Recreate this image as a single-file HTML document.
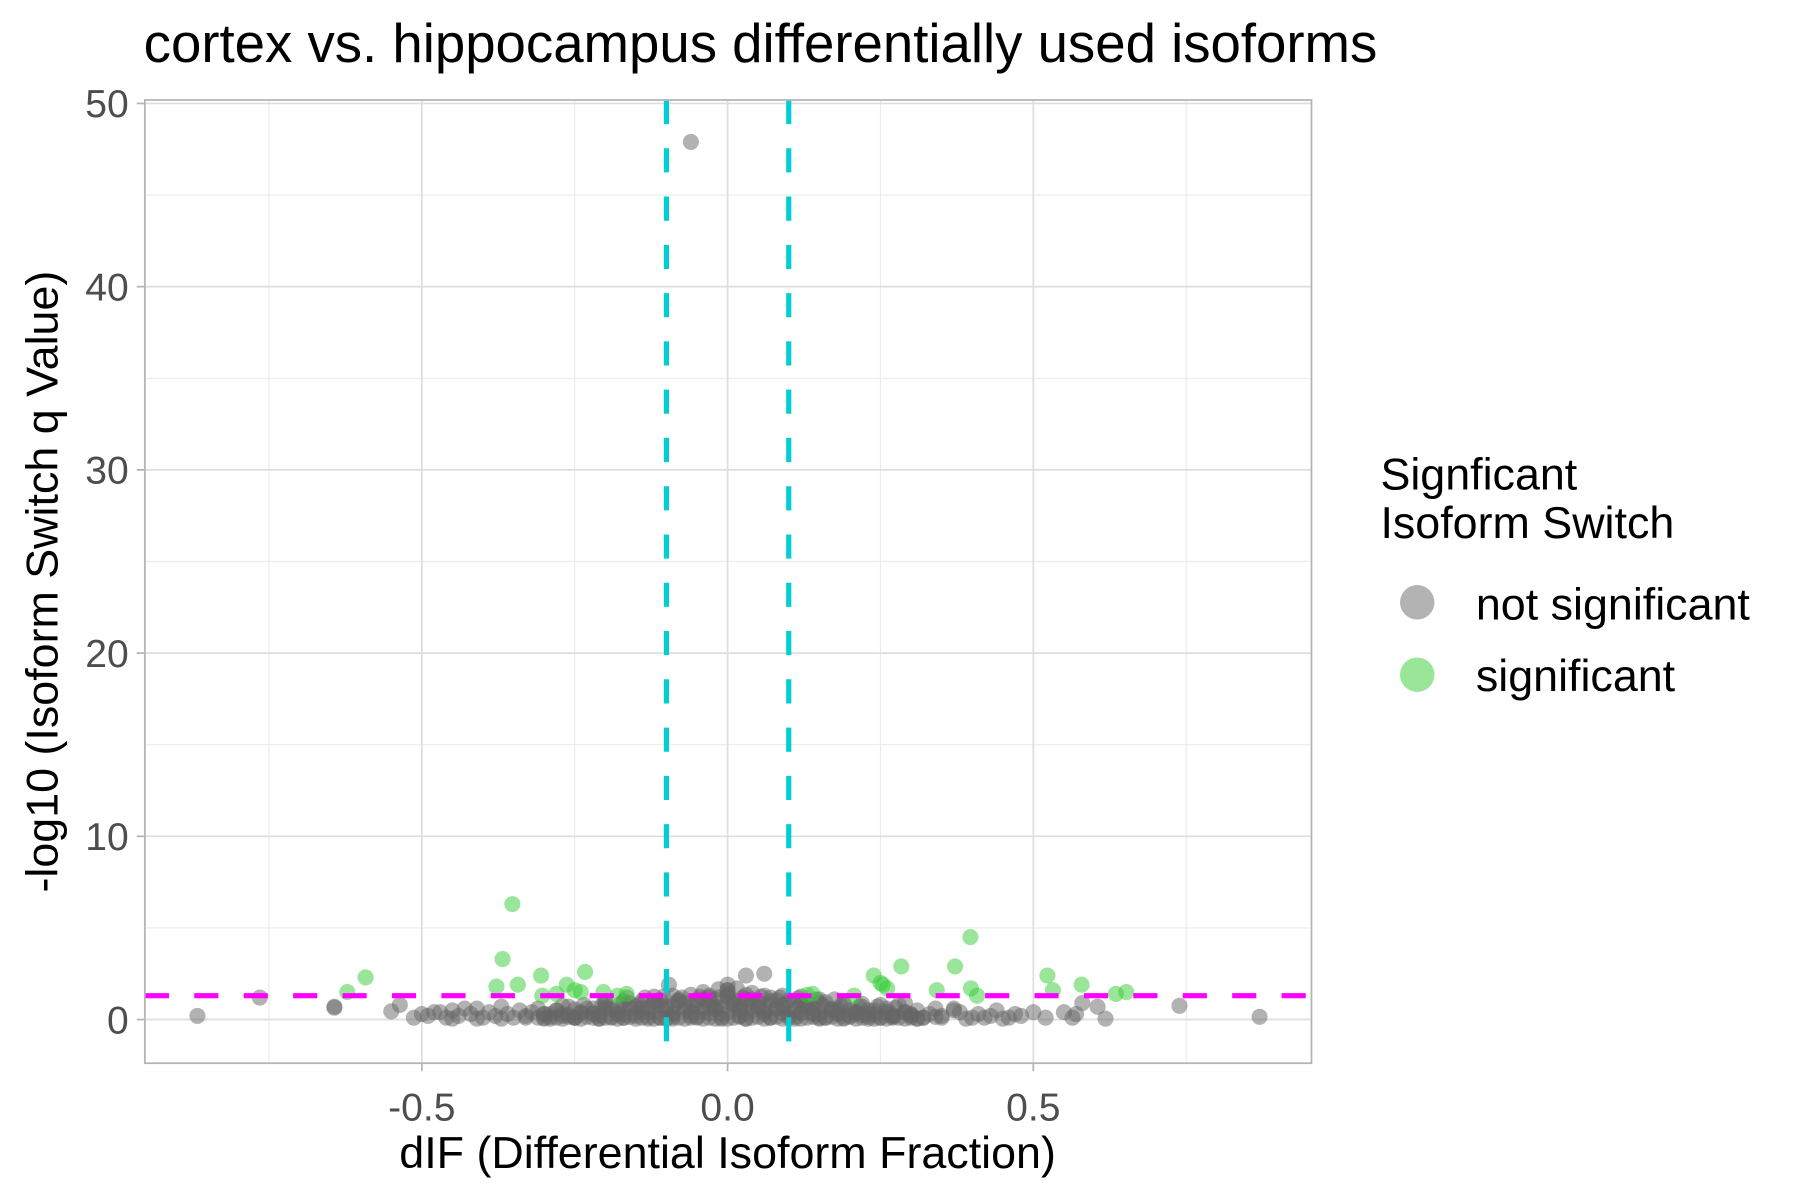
<!DOCTYPE html>
<html><head><meta charset="utf-8"><style>
html,body{margin:0;padding:0;background:#fff;}
svg{display:block;font-family:"Liberation Sans",sans-serif;}
</style></head><body>
<svg id="chart" width="1800" height="1200" viewBox="0 0 1566 1044" xmlns="http://www.w3.org/2000/svg">
<rect width="1566" height="1044" fill="#fff"/>
<text x="125" y="54" font-size="47.5" fill="#000">cortex vs. hippocampus differentially used isoforms</text>
<g id="grid"></g>
<g id="pts"></g>
<g id="lines"></g>
<rect x="126" y="87" width="1015" height="838" fill="none" stroke="#b3b3b3" stroke-width="1.5"/>
<g id="axes"></g>
<text x="633" y="1016" font-size="39" text-anchor="middle" fill="#000">dIF (Differential Isoform Fraction)</text>
<text transform="translate(50,506) rotate(-90)" font-size="39" text-anchor="middle" fill="#000">-log10 (Isoform Switch q Value)</text>
<g>
<text x="1201" y="426" font-size="39" fill="#000">Signficant</text>
<text x="1201" y="468" font-size="39" fill="#000">Isoform Switch</text>
<circle cx="1233" cy="524" r="15" fill="#b3b3b3"/>
<text x="1284" y="539" font-size="39" fill="#000">not significant</text>
<circle cx="1233" cy="587" r="15" fill="#99e699"/>
<text x="1284" y="601" font-size="39" fill="#000">significant</text>
</g>
</svg>
<script>
const xTicks=[-0.5,0,0.5];
const xTickLabels=["-0.5","0.0","0.5"];
const yTicks=[0,10,20,30,40,50];
const yTickLabels=["0","10","20","30","40","50"];
const dIFThresholds=[-0.1,0.1];
const qThreshold=[1.3];
const sigX=[-0.622,-0.592,-0.368,-0.352,-0.378,-0.343,-0.305,-0.233,-0.263,-0.25,-0.303,-0.203,-0.165,-0.18,0.139,0.13,0.207,0.239,0.284,0.254,0.261,0.25,0.342,0.372,0.397,0.398,0.408,0.523,0.532,0.579,0.635,0.652,-0.28,-0.24];
const sigY=[1.5,2.3,3.3,6.3,1.8,1.9,2.4,2.6,1.9,1.6,1.3,1.5,1.4,1.3,1.4,1.35,1.3,2.4,2.9,1.9,1.7,2.0,1.6,2.9,4.5,1.7,1.3,2.4,1.6,1.9,1.4,1.5,1.4,1.5];
const nsX=[-0.06,-0.867,-0.765,-0.643,-0.643,-0.096,0.03,0.06,0,0,0.739,0.87,0.618,0.605,0.564,0.57,0.58,0.55,-0.55,-0.536,-0.513,-0.5,-0.49,-0.47,-0.46,-0.45,-0.44,-0.42,-0.41,-0.4,-0.39,-0.38,-0.37,-0.36,-0.35,-0.34,-0.33,-0.32,-0.31,-0.3,-0.29,-0.28,-0.27,-0.26,-0.25,-0.24,-0.23,-0.22,-0.21,-0.2,-0.19,-0.18,-0.17,-0.16,-0.15,-0.14,-0.13,-0.12,-0.11,-0.1,-0.09,-0.08,-0.07,-0.06,-0.05,-0.04,-0.03,-0.02,-0.01,0,0.01,0.02,0.03,0.04,0.05,0.06,0.07,0.08,0.09,0.1,0.11,0.12,0.13,0.14,0.15,0.16,0.17,0.18,0.19,0.2,0.21,0.22,0.23,0.24,0.25,0.26,0.27,0.28,0.29,0.3,0.31,0.32,0.33,0.35,0.37,0.38,0.4,0.41,0.43,0.44,0.46,0.47,0.48,0.5,0.52,-0.45,-0.41,-0.37,-0.33,-0.29,-0.25,-0.21,-0.17,-0.13,-0.09,-0.05,-0.01,0.03,0.07,0.11,0.15,0.19,0.23,0.27,0.31,0.35,0.39,0.42,0.45,-0.3,-0.26,-0.22,-0.18,-0.14,-0.1,-0.06,-0.02,0.02,0.06,0.1,0.14,0.18,0.22,0.26,0.3,0.34,-0.2,-0.15,-0.11,-0.07,-0.03,0.01,0.05,0.09,0.13,0.17,0.21,-0.08,-0.04,0,0.04,0.08,-0.12,0.12,-0.02,0.02,0.37,0.34,0.29,0.25,-0.43,-0.48,-0.2,0.15];
const nsY=[47.9,0.2,1.2,0.7,0.65,1.9,2.4,2.5,1.9,1.6,0.75,0.15,0.05,0.7,0.1,0.3,0.9,0.4,0.45,0.8,0.1,0.3,0.2,0.4,0.1,0.5,0.2,0.3,0.6,0.1,0.4,0.2,0.7,0.3,0.1,0.5,0.2,0.4,0.6,0.1,0.3,0.5,0.2,0.7,0.1,0.4,0.6,0.3,0.2,0.8,0.1,0.5,0.3,0.9,0.2,0.6,0.4,1.0,0.1,0.7,0.3,1.1,0.5,0.2,0.9,0.4,1.2,0.6,0.3,1.3,0.8,0.2,1.1,0.5,0.9,0.3,1.2,0.6,0.8,0.2,1.0,0.4,0.7,0.3,0.9,0.1,0.6,0.5,0.8,0.2,0.4,0.7,0.3,0.5,0.1,0.6,0.2,0.8,0.4,0.3,0.5,0.1,0.3,0.2,0.6,0.4,0.1,0.3,0.2,0.5,0.1,0.3,0.2,0.4,0.1,0.05,0.05,0.05,0.1,0.05,0.1,0.05,0.1,0.05,0.05,0.1,0.05,0.05,0.1,0.05,0.1,0.05,0.05,0.1,0.05,0.1,0.05,0.1,0.05,0.3,0.25,0.35,0.3,0.4,0.45,0.5,0.55,0.5,0.45,0.4,0.35,0.3,0.25,0.35,0.2,0.15,0.6,0.7,0.8,0.9,0.75,0.85,0.7,0.65,0.6,0.5,0.4,1.0,1.1,1.2,0.95,1.05,0.9,0.85,0.7,0.75,0.5,0.6,0.9,0.8,0.6,0.4,1.0,1.1];
const coreX=[-0.31,-0.3,-0.29,-0.28,-0.27,-0.26,-0.25,-0.24,-0.23,-0.22,-0.21,-0.2,-0.19,-0.18,-0.17,-0.16,-0.15,-0.14,-0.13,-0.12,-0.11,-0.1,-0.09,-0.08,-0.07,-0.06,-0.05,-0.04,-0.03,-0.02,-0.01,0,0.01,0.02,0.03,0.04,0.05,0.06,0.07,0.08,0.09,0.1,0.11,0.12,0.13,0.14,0.15,0.16,0.17,0.18,0.19,0.2,0.21,0.22,0.23,0.24,0.25,0.26,0.27,0.28,0.29,0.3,0.31,0.32,
-0.28,-0.25,-0.22,-0.19,-0.16,-0.13,-0.1,-0.07,-0.04,-0.01,0.02,0.05,0.08,0.11,0.14,0.17,0.2,0.23,0.26,0.29,
-0.2,-0.17,-0.14,-0.11,-0.08,-0.05,-0.02,0.01,0.04,0.07,0.1,0.13,0.16,0.19,0.22,
-0.12,-0.09,-0.06,-0.03,0,0.03,0.06,0.09,0.12,-0.04,0,0.04,0.015,-0.015,
-0.3,-0.27,-0.24,-0.21,-0.18,-0.15,-0.12,-0.09,-0.06,-0.03,0,0.03,0.06,0.09,0.12,0.15,0.18,0.21,0.24,0.27,0.3,
-0.27,-0.235,-0.205,-0.175,-0.145,-0.115,-0.085,-0.055,-0.025,0.005,0.035,0.065,0.095,0.125,0.155,0.185,0.215,0.245,0.275,
-0.165,-0.135,-0.105,-0.075,-0.045,-0.015,0.025,0.055,0.085,0.115,0.145,0.175];
const coreY=[0.1,0.05,0.15,0.1,0.05,0.15,0.1,0.05,0.15,0.1,0.05,0.1,0.15,0.05,0.1,0.15,0.05,0.1,0.15,0.05,0.1,0.05,0.15,0.1,0.05,0.1,0.15,0.05,0.1,0.05,0.1,0.05,0.1,0.15,0.05,0.1,0.15,0.05,0.1,0.15,0.05,0.1,0.15,0.05,0.1,0.15,0.05,0.1,0.15,0.05,0.1,0.15,0.05,0.1,0.15,0.05,0.1,0.05,0.15,0.1,0.05,0.1,0.05,0.1,
0.5,0.55,0.6,0.55,0.6,0.65,0.6,0.65,0.6,0.65,0.6,0.65,0.6,0.55,0.6,0.55,0.5,0.5,0.45,0.4,
0.95,1.0,1.0,1.05,1.0,1.05,1.1,1.05,1.1,1.0,1.05,1.0,0.95,0.9,0.85,
1.25,1.3,1.35,1.3,1.4,1.35,1.3,1.3,1.25,1.5,1.6,1.45,1.7,1.65,
0.3,0.3,0.35,0.3,0.35,0.35,0.4,0.35,0.4,0.35,0.4,0.35,0.4,0.35,0.35,0.3,0.35,0.3,0.3,0.25,0.25,
0.75,0.8,0.8,0.85,0.8,0.85,0.85,0.8,0.85,0.9,0.85,0.8,0.85,0.8,0.8,0.75,0.7,0.7,0.65,
1.2,1.2,1.25,1.2,1.25,1.2,1.2,1.25,1.2,1.15,1.1,1.1];
const NS="http://www.w3.org/2000/svg";
const X0=126,X1=1141,Y0=87,Y1=925;
function sx(v){return 633+v*532;}
function sy(v){return 887-v*15.94;}
function mk(p,t,a){const e=document.createElementNS(NS,t);for(const k in a)e.setAttribute(k,a[k]);document.getElementById(p).appendChild(e);return e;}
const minorX=[-0.75,-0.25,0.25,0.75];
for(const v of minorX){const e=mk('grid','line',{x1:sx(v),x2:sx(v),y1:Y0,y2:Y1,stroke:'#ebebeb','stroke-width':1});

}
const minorY=[5,15,25,35,45];
for(const v of minorY){const e=mk('grid','line',{x1:X0,x2:X1,y1:sy(v),y2:sy(v),stroke:'#ebebeb','stroke-width':1});

}
xTicks.forEach((v,i)=>{const e=mk('grid','line',{x1:sx(v),x2:sx(v),y1:Y0,y2:Y1,stroke:'#dedede','stroke-width':1.5});


const t=mk('axes','line',{x1:sx(v),x2:sx(v),y1:Y1,y2:Y1+7,stroke:'#b3b3b3','stroke-width':1.5});


const l=mk('axes','text',{x:sx(v),y:Y1+50,'font-size':34,fill:'#4d4d4d','text-anchor':'middle'});l.textContent=xTickLabels[i];

});
yTicks.forEach((v,i)=>{const e=mk('grid','line',{x1:X0,x2:X1,y1:sy(v),y2:sy(v),stroke:'#dedede','stroke-width':1.5});


const t=mk('axes','line',{x1:X0-7,x2:X0,y1:sy(v),y2:sy(v),stroke:'#b3b3b3','stroke-width':1.5});


const l=mk('axes','text',{x:X0-14,y:sy(v)+12,'font-size':34,fill:'#4d4d4d','text-anchor':'end'});l.textContent=yTickLabels[i];

});
nsX.forEach((v,i)=>{const c=mk('pts','circle',{cx:sx(v),cy:sy(nsY[i]),r:7,fill:'#666666','fill-opacity':0.5});

});
coreX.forEach((v,i)=>{const c=mk('pts','circle',{cx:sx(v),cy:sy(coreY[i]),r:7,fill:'#666666','fill-opacity':0.5});

});
sigX.forEach((v,i)=>{const c=mk('pts','circle',{cx:sx(v),cy:sy(sigY[i]),r:7,fill:'#33cc33','fill-opacity':0.5});

});
dIFThresholds.forEach(v=>{const e=mk('lines','line',{x1:sx(v),x2:sx(v),y1:Y0,y2:Y1,stroke:'#00ced1','stroke-width':4.5,'stroke-dasharray':'21 21'});

});
qThreshold.forEach(v=>{const e=mk('lines','line',{x1:X0,x2:X1,y1:sy(v),y2:sy(v),stroke:'#ff00ff','stroke-width':4.5,'stroke-dasharray':'21 22'});

});
</script>
</body></html>
